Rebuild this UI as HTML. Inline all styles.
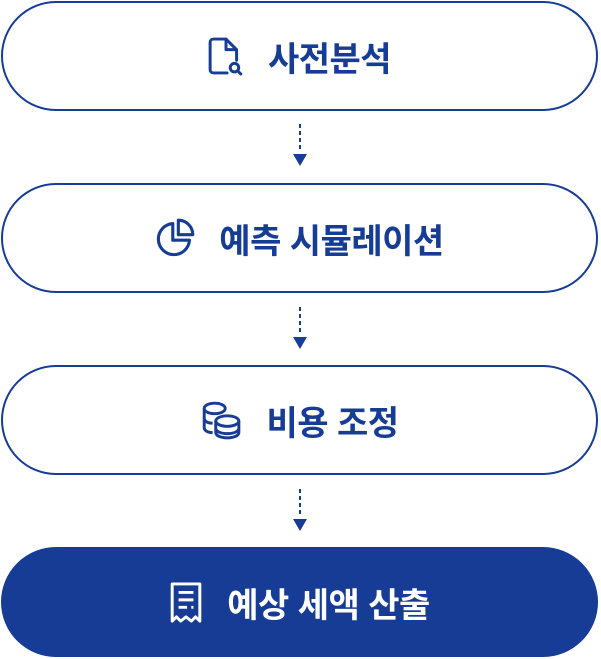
<!DOCTYPE html>
<html><head><meta charset="utf-8"><style>
html,body{margin:0;padding:0;background:#fff;}
body{width:601px;height:659px;position:relative;font-family:"Liberation Sans","Noto Sans CJK KR",sans-serif;}
.pill{position:absolute;left:1px;width:597px;height:110px;border:2px solid #163c96;border-radius:56px;box-sizing:border-box;display:flex;align-items:center;justify-content:center;color:#163c96;font-weight:700;font-size:34px;letter-spacing:-0.5px;}
.pill svg{margin-right:24px;flex-shrink:0;}
.dark{background:#163c96;color:#fff;}
.arr{position:absolute;left:292px;width:16px;height:45px;}
</style></head><body>
<div class="pill" style="top:1px">
<svg width="36" height="42" viewBox="0 0 34 36" fill="none" stroke="#163c96" stroke-width="2.8" stroke-linejoin="round" stroke-linecap="round"><path d="M18 34H5a3 3 0 0 1-3-3V5a3 3 0 0 1 3-3h12l10 10v10"/><path d="M17 2v10h10"/><circle cx="25" cy="29" r="4"/><path d="M28 32l3 3"/></svg>사전분석</div>
<svg class="arr" style="top:122px" viewBox="0 0 16 45"><line x1="8" y1="2" x2="8" y2="30" stroke="#163c96" stroke-width="2" stroke-dasharray="4,3"/><path d="M1 32h14l-7 12z" fill="#163c96"/></svg>
<div class="pill" style="top:183px">
<svg width="40" height="40" viewBox="0 0 36 36" fill="none" stroke="#163c96" stroke-width="2.8" stroke-linejoin="round"><path d="M16 5a14 14 0 1 0 15 15H16z"/><path d="M21 2a13 13 0 0 1 13 13H21z"/></svg>예측 시뮬레이션</div>
<svg class="arr" style="top:305px" viewBox="0 0 16 45"><line x1="8" y1="2" x2="8" y2="30" stroke="#163c96" stroke-width="2" stroke-dasharray="4,3"/><path d="M1 32h14l-7 12z" fill="#163c96"/></svg>
<div class="pill" style="top:365px">
<svg width="42" height="40" viewBox="0 0 40 38" fill="none" stroke="#163c96" stroke-width="2.8"><ellipse cx="14" cy="8" rx="10" ry="5"/><path d="M4 8v18c0 3 3 5 8 5M4 17c0 3 3 5 8 5"/><ellipse cx="26" cy="20" rx="11" ry="5"/><path d="M15 20v11c0 3 5 5 11 5s11-2 11-5V20M15 27c0 3 5 5 11 5s11-2 11-5"/></svg>비용 조정</div>
<svg class="arr" style="top:487px" viewBox="0 0 16 45"><line x1="8" y1="2" x2="8" y2="30" stroke="#163c96" stroke-width="2" stroke-dasharray="4,3"/><path d="M1 32h14l-7 12z" fill="#163c96"/></svg>
<div class="pill dark" style="top:547px;height:110px">
<svg width="34" height="44" viewBox="0 0 32 40" fill="none" stroke="#fff" stroke-width="2.8" stroke-linejoin="round"><path d="M3 38V3h26v35l-4-4-4 4-5-4-5 4-4-4z"/><path d="M9 11h14M9 18h14M9 25h8M21 25h2"/></svg>예상 세액 산출</div>
</body></html>
